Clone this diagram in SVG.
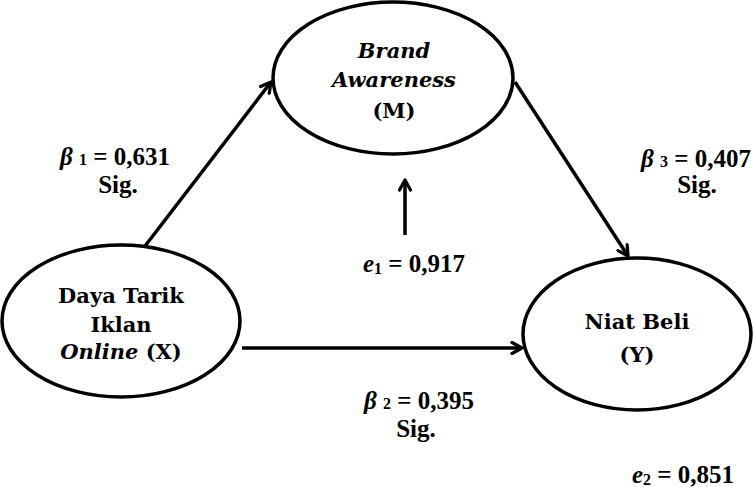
<svg xmlns="http://www.w3.org/2000/svg" width="753" height="487" viewBox="0 0 753 487">
<style>
.node{fill:#fff;stroke:#000;stroke-width:3.5}
.nt{font-family:"DejaVu Serif","Liberation Serif",serif;font-weight:bold;font-size:21px;fill:#000;text-anchor:middle}
.lb{font-family:"Liberation Serif","Times New Roman",serif;font-weight:bold;font-size:25px;fill:#000;text-anchor:middle}
.sub{font-size:16px}
.it{font-style:italic}
.conn{stroke:#000;stroke-width:3.5;fill:none;marker-end:url(#ah)}
</style>
<defs>
<marker id="ah" markerUnits="userSpaceOnUse" viewBox="0 0 14 14" refX="12" refY="7" markerWidth="14" markerHeight="14" orient="auto">
<path d="M2,1.5 L12,7 L2,12.5" fill="none" stroke="#000" stroke-width="3.2" stroke-linecap="round" stroke-linejoin="round"/>
</marker>
</defs>
<g id="connectors">
<line class="conn" x1="142" y1="250" x2="271" y2="82"/>
<line class="conn" x1="515" y1="82" x2="628" y2="256"/>
<line class="conn" x1="242" y1="348" x2="522" y2="348"/>
<line class="conn" x1="405" y1="235" x2="405" y2="180"/>
</g>
<g id="node-m">
<ellipse class="node" cx="393" cy="78" rx="120" ry="76"/>
<text class="nt it" x="394" y="58">Brand</text>
<text class="nt it" x="394" y="87">Awareness</text>
<text class="nt" x="394" y="118">(M)</text>
</g>
<g id="node-x">
<ellipse class="node" cx="121" cy="321" rx="119" ry="76"/>
<text class="nt" x="121" y="303">Daya Tarik</text>
<text class="nt" x="121" y="332">Iklan</text>
<text class="nt" x="121" y="359"><tspan class="it">Online</tspan> (X)</text>
</g>
<g id="node-y">
<ellipse class="node" cx="637" cy="334" rx="114" ry="76"/>
<text class="nt" x="637" y="329">Niat Beli</text>
<text class="nt" x="637" y="362">(Y)</text>
</g>
<g id="labels">
<text class="lb" x="115" y="165"><tspan class="it">β</tspan> <tspan class="sub">1</tspan> = 0,631</text>
<text class="lb" x="118" y="193">Sig.</text>
<text class="lb" x="696" y="167"><tspan class="it">β</tspan> <tspan class="sub">3</tspan> = 0,407</text>
<text class="lb" x="697" y="193">Sig.</text>
<text class="lb" x="419" y="409"><tspan class="it">β</tspan> <tspan class="sub">2</tspan> = 0,395</text>
<text class="lb" x="416" y="437">Sig.</text>
<text class="lb" x="414" y="272"><tspan class="it">e</tspan><tspan class="sub" dy="2">1</tspan><tspan dy="-2"> = 0,917</tspan></text>
<text class="lb" x="683" y="483"><tspan class="it">e</tspan><tspan class="sub" dy="2">2</tspan><tspan dy="-2"> = 0,851</tspan></text>
</g>
</svg>
